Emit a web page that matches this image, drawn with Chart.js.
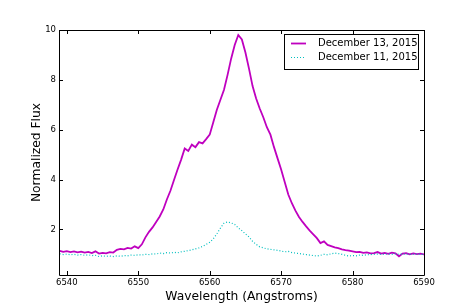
<!DOCTYPE html>
<html>
<head>
<meta charset="utf-8">
<script src="https://cdn.jsdelivr.net/npm/chart.js@4"></script>
<style>
html,body{margin:0;padding:0;background:#fff;}
#wrap{width:471px;height:307px;}
</style>
</head>
<body>
<div id="wrap"><canvas id="c" width="471" height="307"></canvas></div>
<script>
const wavelengths = [
6539.0,6539.5,6540.0,6540.5,6541.0,6541.5,6542.0,6542.5,6543.0,6543.5,
6544.0,6544.5,6545.0,6545.5,6546.0,6546.5,6547.0,6547.5,6548.0,6548.5,
6549.0,6549.5,6550.0,6550.5,6551.0,6551.5,6552.0,6552.5,6553.0,6553.5,
6554.0,6554.5,6555.0,6555.5,6556.0,6556.5,6557.0,6557.5,6558.0,6558.5,
6559.0,6559.5,6560.0,6560.5,6561.0,6561.5,6562.0,6562.5,6563.0,6563.5,
6564.0,6564.5,6565.0,6565.5,6566.0,6566.5,6567.0,6567.5,6568.0,6568.5,
6569.0,6569.5,6570.0,6570.5,6571.0,6571.5,6572.0,6572.5,6573.0,6573.5,
6574.0,6574.5,6575.0,6575.5,6576.0,6576.5,6577.0,6577.5,6578.0,6578.5,
6579.0,6579.5,6580.0,6580.5,6581.0,6581.5,6582.0,6582.5,6583.0,6583.5,
6584.0,6584.5,6585.0,6585.5,6586.0,6586.5,6587.0,6587.5,6588.0,6588.5,
6589.0,6589.5,6590.0
];
const fluxDec13 = [
1.14,1.10,1.13,1.09,1.12,1.08,1.11,1.07,1.10,1.05,
1.12,1.03,1.06,1.04,1.09,1.07,1.18,1.22,1.20,1.26,
1.23,1.32,1.25,1.40,1.68,1.90,2.08,2.30,2.52,2.80,
3.20,3.55,3.98,4.40,4.80,5.25,5.15,5.40,5.30,5.50,
5.45,5.62,5.80,6.30,6.80,7.20,7.60,8.20,8.85,9.40,
9.80,9.62,9.10,8.45,7.75,7.25,6.85,6.50,6.10,5.80,
5.30,4.85,4.40,3.90,3.40,3.05,2.75,2.50,2.30,2.12,
1.95,1.80,1.65,1.45,1.52,1.38,1.33,1.28,1.25,1.20,
1.17,1.15,1.12,1.09,1.10,1.06,1.08,1.04,1.05,1.09,
1.03,1.06,1.02,1.07,1.04,0.92,1.03,1.05,1.00,1.04,
1.01,1.03,1.00
];
const fluxDec11 = [
1.02,0.99,1.01,0.98,1.00,0.97,0.99,0.96,0.98,0.95,
0.96,0.91,0.94,0.92,0.93,0.91,0.94,0.92,0.95,0.94,
0.97,0.96,0.98,0.97,1.00,0.99,1.02,1.01,1.05,1.03,
1.07,1.05,1.08,1.06,1.10,1.12,1.15,1.18,1.22,1.26,
1.32,1.40,1.48,1.62,1.82,2.05,2.25,2.30,2.26,2.20,
2.06,1.95,1.82,1.70,1.52,1.40,1.30,1.26,1.22,1.20,
1.18,1.16,1.13,1.10,1.12,1.07,1.05,1.03,1.01,0.99,
0.97,0.95,0.93,0.96,1.00,0.98,1.02,1.05,1.03,1.00,
0.96,0.93,0.95,0.94,0.97,0.96,0.98,0.99,1.00,1.01,
0.99,1.00,1.01,1.00,1.02,1.00,1.01,1.00,1.01,1.00,
1.01,1.00,1.00
];
const seriesLabels = ['December 13, 2015', 'December 11, 2015'];
const xTicks = [6540, 6550, 6560, 6570, 6580, 6590];
const yTicks = [2, 4, 6, 8, 10];

const FONT = "'DejaVu Sans', sans-serif";

const boxTicks = {
  id: 'boxTicks',
  afterDraw(chart) {
    const ctx = chart.ctx;
    const a = chart.chartArea;
    const xs = chart.scales.x, ys = chart.scales.y;
    ctx.save();
    ctx.strokeStyle = '#000';
    ctx.lineWidth = 1;
    ctx.beginPath();
    ctx.rect(Math.round(a.left) + 0.5, Math.round(a.top) + 0.5, Math.round(a.right - a.left), Math.round(a.bottom - a.top));
    ctx.stroke();
    ctx.beginPath();
    xTicks.forEach(v => {
      const px = Math.round(xs.getPixelForValue(v)) + 0.5;
      ctx.moveTo(px, a.bottom); ctx.lineTo(px, a.bottom - 4);
      ctx.moveTo(px, a.top); ctx.lineTo(px, a.top + 4);
    });
    yTicks.forEach(v => {
      const py = Math.round(ys.getPixelForValue(v)) + 0.5;
      ctx.moveTo(a.left, py); ctx.lineTo(a.left + 4, py);
      ctx.moveTo(a.right, py); ctx.lineTo(a.right - 4, py);
    });
    ctx.stroke();

    // legend
    const lx = 284.5, ly = 34.5, lw = 134, lh = 35;
    ctx.fillStyle = '#fff';
    ctx.fillRect(lx, ly, lw, lh);
    ctx.strokeStyle = '#000';
    ctx.strokeRect(lx, ly, lw, lh);
    ctx.font = '10px ' + FONT;
    ctx.textBaseline = 'middle';
    ctx.textAlign = 'left';
    const rows = [43.5, 57.5];
    chart.data.datasets.forEach((ds, i) => {
      ctx.save();
      ctx.strokeStyle = ds.borderColor;
      ctx.lineWidth = ds.borderWidth;
      ctx.setLineDash(ds.borderDash || []);
      ctx.beginPath();
      ctx.moveTo(291, rows[i]); ctx.lineTo(306, rows[i]);
      ctx.stroke();
      ctx.restore();
      ctx.fillStyle = '#000';
      ctx.fillText(ds.label, 318, rows[i]);
    });
    ctx.restore();
  }
};

new Chart(document.getElementById('c'), {
  type: 'line',
  data: {
    datasets: [
      {
        label: seriesLabels[0],
        data: wavelengths.map((w, i) => ({x: w, y: fluxDec13[i]})),
        borderColor: '#bf00bf',
        borderWidth: 1.8,
        pointRadius: 0,
        tension: 0,
        order: 1
      },
      {
        label: seriesLabels[1],
        data: wavelengths.map((w, i) => ({x: w, y: fluxDec11[i]})),
        borderColor: '#00bfbf',
        borderWidth: 1.2,
        borderDash: [1, 2],
        pointRadius: 0,
        tension: 0,
        order: 0
      }
    ]
  },
  options: {
    responsive: false,
    animation: false,
    devicePixelRatio: 1,
    layout: {padding: {top: 30, right: 47, left: 0, bottom: 0}},
    plugins: {legend: {display: false}, tooltip: {enabled: false}},
    scales: {
      x: {
        type: 'linear',
        min: 6538.9,
        max: 6590,
        afterBuildTicks: s => { s.ticks = xTicks.map(v => ({value: v})); },
        afterFit: s => { s.height = 32; },
        grid: {display: false, drawTicks: false},
        border: {display: false},
        ticks: {
          color: '#000',
          font: {family: FONT, size: 8.5},
          padding: 3,
          maxRotation: 0,
          autoSkip: false,
          callback: v => String(v)
        },
        title: {
          display: true,
          text: 'Wavelength (Angstroms)',
          color: '#000',
          font: {family: FONT, size: 12.3},
          padding: {top: 0, bottom: 3}
        }
      },
      y: {
        type: 'linear',
        min: 0.17,
        max: 10,
        afterBuildTicks: s => { s.ticks = yTicks.map(v => ({value: v})); },
        afterFit: s => { s.width = 59; },
        grid: {display: false, drawTicks: false},
        border: {display: false},
        ticks: {
          color: '#000',
          font: {family: FONT, size: 8.5},
          padding: 3,
          autoSkip: false,
          callback: v => String(v)
        },
        title: {
          display: true,
          text: 'Normalized Flux',
          color: '#000',
          font: {family: FONT, size: 12.3},
          padding: {top: 29, bottom: 0}
        }
      }
    }
  },
  plugins: [boxTicks]
});
</script>
</body>
</html>
